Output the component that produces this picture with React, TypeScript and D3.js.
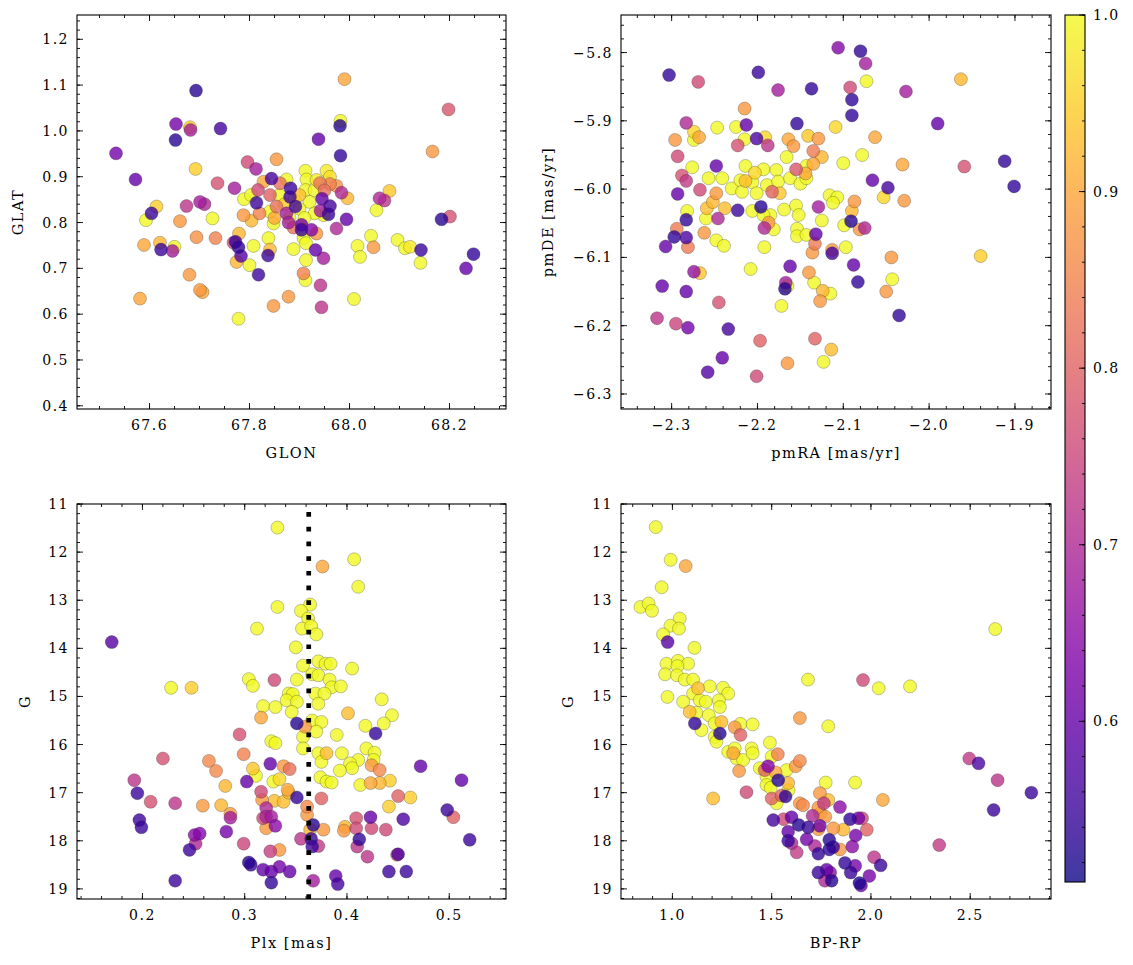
import React from "react";
import * as d3 from "d3";

// ---------- data: [x, y, membership probability] ----------
const GLON_GLAT: [number, number, number][] = [
  [67.99,1.113,0.9],[67.693,1.088,0.53],[68.198,1.047,0.78],[67.653,1.015,0.62],[67.681,1.008,0.95],
  [67.682,1.002,0.68],[67.982,1.022,1.0],[67.981,1.011,0.53],[67.742,1.005,0.56],[67.652,0.98,0.53],
  [67.938,0.982,0.6],[67.533,0.951,0.62],[67.982,0.946,0.54],[68.166,0.955,0.88],[67.796,0.932,0.76],
  [67.854,0.938,0.88],[67.813,0.917,0.68],[67.692,0.917,0.95],[67.572,0.894,0.6],[67.736,0.886,0.77],
  [67.77,0.875,0.68],[67.912,0.913,1.0],[67.954,0.913,0.98],[67.874,0.894,1.0],[67.914,0.894,1.0],
  [67.961,0.9,0.97],[67.934,0.893,0.98],[67.844,0.896,0.56],[67.828,0.889,0.9],[67.861,0.886,0.82],
  [67.941,0.886,0.83],[67.961,0.884,0.85],[67.974,0.88,0.87],[67.882,0.875,0.55],[67.912,0.871,1.0],
  [67.93,0.87,1.0],[68.08,0.869,0.94],[67.984,0.865,0.7],[67.996,0.853,0.92],[67.817,0.871,0.76],
  [67.789,0.851,1.0],[67.803,0.86,1.0],[67.841,0.86,0.8],[67.881,0.856,0.56],[67.945,0.852,0.6],
  [68.06,0.853,0.7],[68.07,0.848,0.72],[67.614,0.835,0.95],[67.604,0.82,0.55],[67.674,0.836,0.72],
  [67.701,0.845,0.68],[67.71,0.84,0.7],[67.814,0.843,0.55],[67.854,0.835,0.82],[67.892,0.835,0.56],
  [67.961,0.836,0.56],[68.054,0.827,1.0],[68.184,0.807,0.53],[68.201,0.813,0.77],[67.593,0.805,1.0],
  [67.661,0.803,0.88],[67.726,0.809,1.0],[67.788,0.816,0.88],[67.804,0.804,0.92],[67.841,0.824,1.0],
  [67.848,0.798,1.0],[67.874,0.82,0.68],[67.878,0.8,0.68],[67.888,0.789,0.82],[67.904,0.795,0.62],
  [67.904,0.784,0.55],[67.924,0.784,0.64],[67.934,0.776,0.88],[67.948,0.816,1.0],[67.958,0.818,0.55],
  [67.942,0.826,0.68],[67.974,0.787,0.7],[67.994,0.807,0.6],[68.043,0.771,1.0],[68.048,0.746,0.88],
  [68.016,0.749,1.0],[68.021,0.725,1.0],[68.096,0.762,1.0],[68.111,0.744,1.0],[68.121,0.747,0.98],
  [68.143,0.74,0.55],[68.142,0.712,1.0],[68.248,0.731,0.54],[68.233,0.7,0.6],[67.581,0.634,0.9],
  [67.589,0.751,0.9],[67.621,0.756,0.92],[67.623,0.741,0.55],[67.65,0.747,1.0],[67.646,0.738,0.68],
  [67.68,0.686,0.88],[67.694,0.768,0.87],[67.701,0.653,0.88],[67.706,0.648,0.9],[67.732,0.766,0.85],
  [67.768,0.756,0.77],[67.772,0.758,0.55],[67.779,0.776,0.92],[67.778,0.746,0.54],[67.783,0.727,0.58],
  [67.774,0.714,0.92],[67.8,0.707,1.0],[67.808,0.749,1.0],[67.818,0.686,0.55],[67.778,0.59,1.0],
  [67.838,0.766,1.0],[67.841,0.741,0.92],[67.837,0.728,0.55],[67.848,0.618,0.88],[67.878,0.638,0.88],
  [67.888,0.742,1.0],[67.908,0.766,1.0],[67.913,0.755,1.0],[67.913,0.718,1.0],[67.908,0.689,0.85],
  [67.912,0.674,1.0],[67.932,0.74,0.6],[67.948,0.722,0.68],[67.942,0.663,0.72],[67.944,0.615,0.72],
  [68.009,0.633,1.0],[67.86,0.86,1.0],[67.89,0.85,1.0],[67.92,0.845,1.0],[67.9,0.83,1.0],
  [67.87,0.84,0.95],[67.93,0.82,1.0],[67.88,0.81,1.0],[67.91,0.81,1.0],[67.85,0.81,0.9],
  [67.9,0.86,0.93],[67.82,0.82,0.85],[67.95,0.87,0.82],
];

const PMRA_PMDE: [number, number, number][] = [
  [-2.303,-5.833,0.54],[-2.269,-5.843,0.76],[-2.199,-5.829,0.55],[-2.176,-5.855,0.68],[-2.137,-5.853,0.54],
  [-2.106,-5.793,0.64],[-2.08,-5.798,0.54],[-2.074,-5.816,0.68],[-2.092,-5.851,0.76],[-2.09,-5.869,0.54],
  [-2.09,-5.892,0.54],[-2.073,-5.842,1.0],[-1.963,-5.839,0.92],[-2.027,-5.857,0.68],[-2.283,-5.903,0.7],
  [-2.154,-5.904,0.54],[-2.109,-5.909,0.96],[-1.99,-5.904,0.6],[-2.215,-5.882,0.88],[-2.296,-5.928,0.88],
  [-2.274,-5.916,0.96],[-2.274,-5.928,1.0],[-2.268,-5.924,0.9],[-2.247,-5.91,1.0],[-2.225,-5.909,1.0],
  [-2.213,-5.906,0.6],[-2.215,-5.927,1.0],[-2.201,-5.926,0.57],[-2.191,-5.924,0.96],[-2.223,-5.936,0.77],
  [-2.188,-5.936,0.72],[-2.164,-5.927,0.9],[-2.158,-5.937,0.88],[-2.141,-5.922,0.94],[-2.129,-5.926,0.88],
  [-2.135,-5.944,0.84],[-2.125,-5.953,0.92],[-2.166,-5.953,1.0],[-2.135,-5.963,0.9],[-2.143,-5.966,1.0],
  [-2.1,-5.962,1.0],[-2.078,-5.95,1.0],[-2.063,-5.924,0.9],[-2.031,-5.964,0.9],[-1.959,-5.967,0.77],
  [-1.912,-5.959,0.54],[-1.901,-5.996,0.54],[-2.293,-5.952,0.76],[-2.288,-5.98,0.77],[-2.283,-5.988,0.73],
  [-2.276,-5.968,1.0],[-2.267,-6.001,0.76],[-2.293,-6.007,0.6],[-2.248,-5.966,0.6],[-2.257,-5.984,1.0],
  [-2.241,-5.984,1.0],[-2.23,-5.999,1.0],[-2.22,-5.987,1.0],[-2.214,-5.988,0.93],[-2.214,-5.966,1.0],
  [-2.203,-5.976,0.96],[-2.193,-5.971,1.0],[-2.206,-5.99,1.0],[-2.218,-6.004,1.0],[-2.201,-6.006,1.0],
  [-2.189,-5.994,1.0],[-2.178,-5.972,1.0],[-2.176,-5.989,1.0],[-2.183,-6.004,0.8],[-2.174,-6.006,0.94],
  [-2.162,-5.984,1.0],[-2.155,-5.971,0.78],[-2.15,-5.992,1.0],[-2.144,-5.977,0.9],[-2.143,-5.984,1.0],
  [-2.116,-6.009,1.0],[-2.107,-6.012,1.0],[-2.112,-6.02,1.0],[-2.087,-6.018,0.88],[-2.09,-6.032,0.92],
  [-2.066,-5.987,0.6],[-2.048,-5.998,0.56],[-2.053,-6.012,0.96],[-2.029,-6.017,0.88],[-2.248,-6.006,0.88],
  [-2.252,-6.019,0.92],[-2.259,-6.028,0.93],[-2.238,-6.028,0.93],[-2.282,-6.032,1.0],[-2.223,-6.031,0.55],
  [-2.196,-6.026,0.53],[-2.206,-6.032,1.0],[-2.185,-6.038,1.0],[-2.169,-6.03,1.0],[-2.155,-6.024,1.0],
  [-2.152,-6.038,1.0],[-2.129,-6.026,0.68],[-2.283,-6.045,0.54],[-2.294,-6.058,0.84],[-2.297,-6.07,0.54],
  [-2.283,-6.071,0.57],[-2.307,-6.084,0.6],[-2.281,-6.085,0.84],[-2.26,-6.043,1.0],[-2.262,-6.064,0.88],
  [-2.246,-6.043,0.7],[-2.248,-6.075,1.0],[-2.239,-6.083,1.0],[-2.193,-6.038,1.0],[-2.187,-6.049,0.88],
  [-2.192,-6.057,0.7],[-2.181,-6.059,1.0],[-2.154,-6.058,1.0],[-2.154,-6.069,1.0],[-2.143,-6.067,1.0],
  [-2.192,-6.085,1.0],[-2.132,-6.066,0.6],[-2.133,-6.08,0.84],[-2.136,-6.093,0.88],[-2.125,-6.046,1.0],
  [-2.113,-6.089,0.88],[-2.113,-6.094,0.56],[-2.099,-6.053,1.0],[-2.097,-6.085,1.0],[-2.091,-6.047,0.53],
  [-2.081,-6.059,0.88],[-2.075,-6.057,0.7],[-2.208,-6.117,1.0],[-2.162,-6.113,0.6],[-2.167,-6.137,0.68],
  [-2.165,-6.142,1.0],[-2.168,-6.146,0.53],[-2.14,-6.122,0.88],[-2.134,-6.137,1.0],[-2.124,-6.149,0.92],
  [-2.115,-6.153,1.0],[-2.127,-6.164,0.88],[-2.172,-6.171,1.0],[-2.088,-6.111,0.6],[-2.083,-6.136,0.54],
  [-2.044,-6.1,0.88],[-2.043,-6.132,1.0],[-2.05,-6.15,0.88],[-2.035,-6.185,0.54],[-1.94,-6.098,0.95],
  [-2.274,-6.121,0.66],[-2.267,-6.123,0.94],[-2.311,-6.142,0.6],[-2.283,-6.15,0.6],[-2.245,-6.166,0.77],
  [-2.317,-6.189,0.72],[-2.295,-6.197,0.75],[-2.281,-6.203,0.62],[-2.234,-6.205,0.56],[-2.197,-6.222,0.8],
  [-2.133,-6.219,0.8],[-2.114,-6.235,0.93],[-2.123,-6.253,1.0],[-2.165,-6.255,0.88],[-2.241,-6.247,0.6],
  [-2.258,-6.268,0.58],[-2.201,-6.274,0.76],
];

const PLX_G: [number, number, number][] = [
  [0.332,11.49,1.0],[0.376,12.3,0.9],[0.407,12.15,1.0],[0.411,12.72,1.0],[0.332,13.14,1.0],
  [0.364,13.09,1.0],[0.355,13.22,1.0],[0.362,13.38,1.0],[0.356,13.59,1.0],[0.365,13.54,1.0],
  [0.37,13.71,1.0],[0.312,13.59,1.0],[0.17,13.87,0.58],[0.35,13.98,1.0],[0.357,14.36,1.0],
  [0.372,14.27,1.0],[0.379,14.32,1.0],[0.384,14.32,1.0],[0.405,14.42,1.0],[0.366,14.54,1.0],
  [0.372,14.56,1.0],[0.351,14.65,1.0],[0.304,14.64,1.0],[0.308,14.78,1.0],[0.329,14.66,0.76],
  [0.228,14.82,1.0],[0.248,14.82,0.95],[0.383,14.65,1.0],[0.385,14.81,1.0],[0.394,14.79,1.0],
  [0.343,14.94,1.0],[0.347,14.95,1.0],[0.369,14.94,1.0],[0.378,14.94,1.0],[0.434,15.06,1.0],
  [0.341,15.08,1.0],[0.351,15.11,1.0],[0.346,15.32,1.0],[0.318,15.2,1.0],[0.33,15.22,1.0],
  [0.372,15.15,1.0],[0.444,15.39,1.0],[0.436,15.56,1.0],[0.418,15.61,1.0],[0.428,15.77,0.54],
  [0.401,15.35,0.93],[0.316,15.44,0.9],[0.351,15.56,0.53],[0.359,15.63,0.88],[0.366,15.5,1.0],
  [0.375,15.53,1.0],[0.37,15.73,1.0],[0.357,15.84,1.0],[0.39,15.8,1.0],[0.295,15.79,0.77],
  [0.326,15.93,1.0],[0.33,15.97,1.0],[0.357,16.08,1.0],[0.372,16.18,1.0],[0.38,16.18,0.93],
  [0.375,16.36,1.0],[0.395,16.18,1.0],[0.419,16.08,1.0],[0.427,16.17,1.0],[0.411,16.32,1.0],
  [0.403,16.39,1.0],[0.426,16.32,1.0],[0.405,16.49,1.0],[0.393,16.54,1.0],[0.374,16.68,1.0],
  [0.38,16.77,1.0],[0.385,16.79,1.0],[0.413,16.84,1.0],[0.424,16.43,0.88],[0.432,16.53,0.86],
  [0.423,16.8,0.9],[0.432,16.8,0.92],[0.442,16.75,0.95],[0.472,16.45,0.6],[0.512,16.74,0.6],
  [0.192,16.74,0.72],[0.195,17.01,0.55],[0.22,16.29,0.77],[0.208,17.19,0.77],[0.232,17.22,0.72],
  [0.265,16.34,0.86],[0.272,16.55,0.86],[0.259,17.27,0.88],[0.281,16.86,0.92],[0.277,17.26,0.92],
  [0.286,17.44,0.88],[0.299,16.2,0.85],[0.308,16.5,0.94],[0.311,16.65,1.0],[0.302,16.77,0.6],
  [0.325,16.4,0.6],[0.328,16.77,1.0],[0.334,16.72,0.96],[0.338,16.45,0.88],[0.344,16.51,0.82],
  [0.316,16.98,0.76],[0.317,17.15,0.88],[0.329,17.17,0.93],[0.338,17.19,0.93],[0.342,16.94,0.9],
  [0.343,17.0,0.93],[0.351,17.1,0.54],[0.321,17.32,0.7],[0.321,17.5,0.7],[0.318,17.53,0.76],
  [0.326,17.5,0.68],[0.33,17.69,0.65],[0.321,17.74,0.88],[0.282,17.81,0.62],[0.286,17.52,0.68],
  [0.361,17.29,0.86],[0.361,17.46,0.88],[0.375,17.12,0.8],[0.367,17.67,0.53],[0.377,17.77,0.88],
  [0.364,17.77,0.92],[0.398,17.71,0.92],[0.397,17.79,0.88],[0.409,17.53,0.77],[0.409,17.74,0.76],
  [0.423,17.51,0.6],[0.424,17.74,0.76],[0.438,17.77,0.76],[0.455,17.55,0.57],[0.45,17.07,0.8],
  [0.462,17.1,0.95],[0.441,17.29,0.95],[0.498,17.36,0.55],[0.504,17.51,0.8],[0.52,17.98,0.55],
  [0.197,17.57,0.55],[0.199,17.72,0.55],[0.251,17.88,0.65],[0.256,17.85,0.64],[0.252,18.06,0.7],
  [0.246,18.19,0.55],[0.299,18.06,0.75],[0.325,18.22,0.74],[0.334,18.19,0.88],[0.355,17.96,0.72],
  [0.365,17.96,0.55],[0.366,18.12,0.55],[0.372,18.11,0.73],[0.412,17.97,0.54],[0.41,18.12,0.72],
  [0.42,18.33,0.72],[0.449,18.29,0.78],[0.45,18.28,0.57],[0.304,18.45,0.53],[0.306,18.5,0.55],
  [0.318,18.6,0.6],[0.326,18.64,0.6],[0.334,18.54,0.62],[0.344,18.64,0.6],[0.326,18.87,0.54],
  [0.232,18.83,0.55],[0.367,18.83,0.68],[0.389,18.73,0.6],[0.391,18.9,0.56],[0.441,18.64,0.55],
  [0.458,18.64,0.55],
];

const COLOR_G: [number, number, number][] = [
  [0.916,11.48,1.0],[0.991,12.16,1.0],[1.067,12.29,0.9],[0.946,12.73,1.0],[0.839,13.14,1.0],
  [0.88,13.07,1.0],[0.897,13.22,1.0],[1.037,13.38,1.0],[0.99,13.53,1.0],[1.033,13.59,1.0],
  [0.953,13.71,1.0],[0.976,13.87,0.58],[1.111,13.99,1.0],[0.97,14.32,1.0],[1.028,14.26,1.0],
  [1.079,14.32,1.0],[1.025,14.37,1.0],[0.963,14.54,1.0],[1.023,14.56,1.0],[1.062,14.65,1.0],
  [1.104,14.65,1.0],[1.188,14.79,1.0],[1.129,14.83,0.93],[1.104,14.94,1.0],[1.255,14.82,1.0],
  [1.281,14.94,1.0],[0.975,15.01,1.0],[1.054,15.11,1.0],[1.138,15.08,1.0],[1.168,15.11,1.0],
  [1.234,15.08,1.0],[1.239,15.22,1.0],[1.087,15.32,0.93],[1.121,15.34,1.0],[1.183,15.39,1.0],
  [1.113,15.56,0.54],[1.146,15.7,1.0],[1.213,15.56,1.0],[1.239,15.77,0.53],[1.213,15.84,1.0],
  [1.222,15.94,1.0],[1.247,15.53,0.93],[1.314,15.64,0.88],[1.343,15.8,0.8],[1.343,15.57,1.0],
  [1.404,15.58,1.0],[1.281,16.15,1.0],[1.314,16.08,1.0],[1.306,16.18,0.9],[1.323,16.29,1.0],
  [1.356,16.32,1.0],[1.399,16.08,1.0],[1.404,16.18,1.0],[1.336,16.55,0.88],[1.491,15.96,1.0],
  [1.531,16.2,0.85],[1.5,16.25,1.0],[1.642,16.34,0.86],[1.621,16.45,0.88],[1.575,16.53,1.0],
  [1.44,16.49,1.0],[1.482,16.45,0.64],[1.465,16.53,0.8],[1.474,16.67,1.0],[1.52,16.58,0.9],
  [1.533,16.74,0.53],[1.474,16.84,1.0],[1.495,16.9,1.0],[1.583,16.8,0.92],[1.585,16.95,1.0],
  [1.525,17.22,1.0],[1.5,17.12,0.8],[1.57,17.08,0.54],[1.55,17.06,0.8],[1.373,16.99,0.76],
  [1.205,17.12,0.93],[1.642,15.45,0.88],[1.785,15.62,1.0],[1.772,16.79,1.0],[1.92,16.79,1.0],
  [2.06,17.15,0.9],[1.642,17.22,0.88],[1.658,17.26,0.86],[1.743,17.01,0.88],[1.785,17.15,0.93],
  [1.763,17.22,0.73],[1.844,17.3,0.65],[1.735,17.31,0.88],[1.706,17.48,0.7],[1.745,17.43,0.92],
  [1.77,17.5,0.88],[1.508,17.57,0.56],[1.56,17.55,0.76],[1.6,17.51,0.6],[1.636,17.67,0.53],
  [1.684,17.72,0.55],[1.743,17.69,0.62],[1.735,17.76,0.88],[1.81,17.74,0.88],[1.861,17.77,0.92],
  [1.895,17.55,0.54],[1.937,17.53,0.62],[1.955,17.53,0.76],[1.979,17.77,0.8],[1.923,17.89,0.62],
  [1.583,17.81,0.6],[1.583,18.0,0.55],[1.6,18.05,0.7],[1.676,17.97,0.62],[1.626,18.24,0.73],
  [1.718,18.11,0.7],[1.735,18.27,0.54],[1.79,17.98,0.53],[1.79,18.18,0.54],[1.81,18.13,0.55],
  [1.844,18.18,0.88],[1.906,18.12,0.65],[2.016,18.34,0.72],[2.049,18.51,0.55],[1.869,18.46,0.54],
  [1.921,18.52,0.62],[1.898,18.66,0.55],[1.992,18.73,0.62],[1.735,18.66,0.55],[1.777,18.6,0.6],
  [1.795,18.66,0.66],[1.768,18.83,0.7],[1.802,18.83,0.53],[1.942,18.88,0.52],[1.95,18.93,0.6],
  [2.495,16.29,0.73],[2.542,16.39,0.57],[2.638,16.74,0.72],[2.808,17.0,0.55],[2.618,17.36,0.55],
  [2.344,18.09,0.73],[1.683,14.65,1.0],[1.96,14.66,0.76],[2.039,14.83,1.0],[2.197,14.79,1.0],
  [2.626,13.6,1.0],
];

// ---------- ticks ----------
const TL_XTICKS = [67.6, 67.8, 68.0, 68.2];
const TL_YTICKS = [0.4, 0.5, 0.6, 0.7, 0.8, 0.9, 1.0, 1.1, 1.2];
const TR_XTICKS = [-2.3, -2.2, -2.1, -2.0, -1.9];
const TR_YTICKS = [-6.3, -6.2, -6.1, -6.0, -5.9, -5.8];
const BL_XTICKS = [0.2, 0.3, 0.4, 0.5];
const G_TICKS = [11, 12, 13, 14, 15, 16, 17, 18, 19];
const BR_XTICKS = [1.0, 1.5, 2.0, 2.5];
const CB_TICKS = [0.6, 0.7, 0.8, 0.9, 1.0];
const PLX_MEAN = 0.3626;

const VMIN = 0.509;
const VMAX = 1.0;
const FONT = "'DejaVu Serif', serif";

const color = d3.scaleSequential(d3.interpolatePlasma).domain([VMIN, VMAX]);

function minorTicks(domain: [number, number], step: number) {
  const lo = Math.min(domain[0], domain[1]);
  const hi = Math.max(domain[0], domain[1]);
  const out: number[] = [];
  const start = Math.ceil(lo / step - 1e-9);
  const end = Math.floor(hi / step + 1e-9);
  for (let i = start; i <= end; i++) out.push(+(i * step).toFixed(6));
  return out;
}

const minus = (s: string) => s.replace("-", "\u2212");

type PanelProps = {
  data: [number, number, number][];
  x0: number; x1: number; y0: number; y1: number;
  xDomain: [number, number]; yDomain: [number, number];
  xTicks: number[]; yTicks: number[];
  xMinor: number; yMinor: number;
  xFmt: (v: number) => string; yFmt: (v: number) => string;
  xLabel: string; yLabel: string; yLabelX: number;
  vline?: number;
};

function Panel(p: PanelProps) {
  const x = d3.scaleLinear().domain(p.xDomain).range([p.x0, p.x1]);
  const y = d3.scaleLinear().domain(p.yDomain).range([p.y1, p.y0]);
  const sorted = [...p.data].sort((a, b) => b[2] - a[2]);
  const xm = minorTicks(p.xDomain, p.xMinor);
  const ym = minorTicks(p.yDomain, p.yMinor);
  const maj = 6, mnr = 3;
  const tickStyle = { stroke: "#000", strokeWidth: 0.9 };
  const textStyle: React.CSSProperties = { fontFamily: FONT, fontSize: 14, letterSpacing: "1.5px" };
  const clipId = `clip-${p.x0}-${p.y0}`;
  return (
    <g>
      <defs>
        <clipPath id={clipId}>
          <rect x={p.x0} y={p.y0} width={p.x1 - p.x0} height={p.y1 - p.y0} />
        </clipPath>
      </defs>
      <g clipPath={`url(#${clipId})`}>
        {sorted.map((d, i) => (
          <circle key={i} cx={x(d[0])} cy={y(d[1])} r={6.5}
            fill={color(d[2])} fillOpacity={0.8}
            stroke="#222" strokeOpacity={0.45} strokeWidth={0.6} />
        ))}
        {p.vline !== undefined && (
          <line x1={x(p.vline)} x2={x(p.vline)} y1={p.y1} y2={p.y0}
            stroke="#000" strokeWidth={4.7} strokeDasharray="4.7 10" />
        )}
      </g>
      {/* minor ticks */}
      {xm.map((v) => (
        <g key={"xm" + v}>
          <line x1={x(v)} x2={x(v)} y1={p.y1} y2={p.y1 - mnr} {...tickStyle} />
          <line x1={x(v)} x2={x(v)} y1={p.y0} y2={p.y0 + mnr} {...tickStyle} />
        </g>
      ))}
      {ym.map((v) => (
        <g key={"ym" + v}>
          <line x1={p.x0} x2={p.x0 + mnr} y1={y(v)} y2={y(v)} {...tickStyle} />
          <line x1={p.x1} x2={p.x1 - mnr} y1={y(v)} y2={y(v)} {...tickStyle} />
        </g>
      ))}
      {/* major ticks + labels */}
      {p.xTicks.map((v) => (
        <g key={"xt" + v}>
          <line x1={x(v)} x2={x(v)} y1={p.y1} y2={p.y1 - maj} {...tickStyle} />
          <line x1={x(v)} x2={x(v)} y1={p.y0} y2={p.y0 + maj} {...tickStyle} />
          <text x={x(v)} y={p.y1 + 16} textAnchor="middle" dominantBaseline="central" style={textStyle}>
            {p.xFmt(v)}
          </text>
        </g>
      ))}
      {p.yTicks.map((v) => (
        <g key={"yt" + v}>
          <line x1={p.x0} x2={p.x0 + maj} y1={y(v)} y2={y(v)} {...tickStyle} />
          <line x1={p.x1} x2={p.x1 - maj} y1={y(v)} y2={y(v)} {...tickStyle} />
          <text x={p.x0 - 8} y={y(v)} textAnchor="end" dominantBaseline="central" style={textStyle}>
            {p.yFmt(v)}
          </text>
        </g>
      ))}
      <rect x={p.x0} y={p.y0} width={p.x1 - p.x0} height={p.y1 - p.y0}
        fill="none" stroke="#000" strokeWidth={1.1} />
      <text x={(p.x0 + p.x1) / 2} y={p.y1 + 44} textAnchor="middle" dominantBaseline="central"
        style={{ ...textStyle, fontSize: 14.5 }}>{p.xLabel}</text>
      <text transform={`translate(${p.yLabelX},${(p.y0 + p.y1) / 2}) rotate(-90)`}
        textAnchor="middle" dominantBaseline="central"
        style={{ ...textStyle, fontSize: 14.5 }}>{p.yLabel}</text>
    </g>
  );
}

function Colorbar() {
  const x0 = 1065, x1 = 1085, y0 = 15, y1 = 882;
  const s = d3.scaleLinear().domain([VMIN, VMAX]).range([y1, y0]);
  const stops = d3.range(0, 1.0001, 0.05);
  const minors = minorTicks([VMIN, VMAX], 0.02);
  return (
    <g>
      <defs>
        <linearGradient id="cbgrad" x1="0" x2="0" y1="1" y2="0">
          {stops.map((t) => (
            <stop key={t} offset={t} stopColor={d3.interpolatePlasma(t)} stopOpacity={0.8} />
          ))}
        </linearGradient>
      </defs>
      <rect x={x0} y={y0} width={x1 - x0} height={y1 - y0} fill="url(#cbgrad)" />
      {minors.map((v) => (
        <line key={"cm" + v} x1={x1} x2={x1 - 3} y1={s(v)} y2={s(v)} stroke="#000" strokeWidth={0.9} />
      ))}
      {CB_TICKS.map((v) => (
        <g key={"cb" + v}>
          <line x1={x1} x2={x1 - 6} y1={s(v)} y2={s(v)} stroke="#000" strokeWidth={0.9} />
          <text x={x1 + 8} y={s(v)} dominantBaseline="central"
            style={{ fontFamily: FONT, fontSize: 14, letterSpacing: "1.5px" }}>{v.toFixed(1)}</text>
        </g>
      ))}
      <rect x={x0} y={y0} width={x1 - x0} height={y1 - y0} fill="none" stroke="#000" strokeWidth={1.1} />
    </g>
  );
}

export default function App() {
  const f1 = (v: number) => minus(v.toFixed(1));
  const f0 = (v: number) => v.toFixed(0);
  return (
    <svg width={1133} height={965} style={{ position: "absolute", left: 0, top: 0, background: "#fff" }}>
      <rect width={1133} height={965} fill="#fff" />
      <Panel data={GLON_GLAT} x0={77} x1={506} y0={15} y1={409}
        xDomain={[67.455, 68.313]} yDomain={[0.393, 1.253]}
        xTicks={TL_XTICKS} yTicks={TL_YTICKS} xMinor={0.05} yMinor={0.02}
        xFmt={f1} yFmt={f1} xLabel="GLON" yLabel="GLAT" yLabelX={18} />
      <Panel data={PMRA_PMDE} x0={621} x1={1051} y0={15} y1={409}
        xDomain={[-2.359, -1.858]} yDomain={[-6.322, -5.745]}
        xTicks={TR_XTICKS} yTicks={TR_YTICKS} xMinor={0.02} yMinor={0.02}
        xFmt={f1} yFmt={f1} xLabel="pmRA [mas/yr]" yLabel="pmDE [mas/yr]" yLabelX={548} />
      <Panel data={PLX_G} x0={77} x1={506} y0={504} y1={899}
        xDomain={[0.136, 0.5555]} yDomain={[19.21, 11.0]}
        xTicks={BL_XTICKS} yTicks={G_TICKS} xMinor={0.02} yMinor={0.2}
        xFmt={f1} yFmt={f0} xLabel="Plx [mas]" yLabel="G" yLabelX={25} vline={PLX_MEAN} />
      <Panel data={COLOR_G} x0={621} x1={1051} y0={504} y1={899}
        xDomain={[0.741, 2.907]} yDomain={[19.21, 11.0]}
        xTicks={BR_XTICKS} yTicks={G_TICKS} xMinor={0.1} yMinor={0.2}
        xFmt={f1} yFmt={f0} xLabel="BP-RP" yLabel="G" yLabelX={568} />
      <Colorbar />
    </svg>
  );
}
